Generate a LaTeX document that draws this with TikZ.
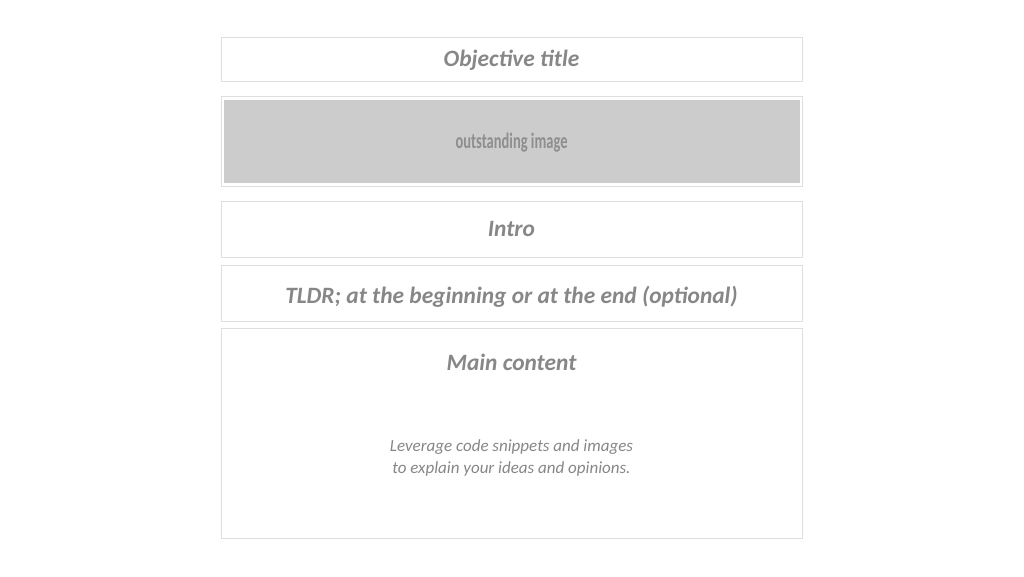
\documentclass[tikz,border=0pt]{standalone}
\usepackage{fontspec}
\setmainfont{Carlito}
\newfontfamily\condfont[FakeStretch=0.66]{Carlito}
\definecolor{txtgrey}{HTML}{878787}
\definecolor{boxline}{HTML}{DEDEDE}
\definecolor{imgfill}{HTML}{CCCCCC}
\definecolor{imgtxt}{HTML}{8E8E8E}
\begin{document}
\begin{tikzpicture}[x=1pt,y=-1pt,
  panel/.style={draw=boxline,line width=0.8pt,fill=white},
  heading/.style={text=txtgrey,font=\fontsize{23.4}{28}\selectfont\bfseries\itshape,inner sep=0pt},
  body/.style={text=txtgrey,font=\fontsize{17}{22}\selectfont\itshape,align=center,inner sep=0pt}]
\useasboundingbox[fill=white] (0,0) rectangle (1024,576);
\draw[panel] (221,37) rectangle (802,81);
\node[heading] (t1) at (511.5,60.5) {Objective title};
\draw[panel] (221,96) rectangle (802,186);
\fill[imgfill] (224,100) rectangle (800,183);
\node[text=imgtxt,font=\fontsize{22}{26}\selectfont\condfont\bfseries,inner sep=0pt] (t2) at (511.5,143) {outstanding image};
\draw[panel] (221,201) rectangle (802,257);
\node[heading] (t3) at (511.5,229) {Intro};
\draw[panel] (221,265) rectangle (802,321);
\node[heading] (t4) at (511.5,297) {TLDR; at the beginning or at the end (optional)};
\draw[panel] (221,328) rectangle (802,538);
\node[heading] (t5) at (511.5,362) {Main content};
\node[body] (t6) at (511.5,458) {Leverage code snippets and images\\to explain your ideas and opinions.};
\end{tikzpicture}
\end{document}
